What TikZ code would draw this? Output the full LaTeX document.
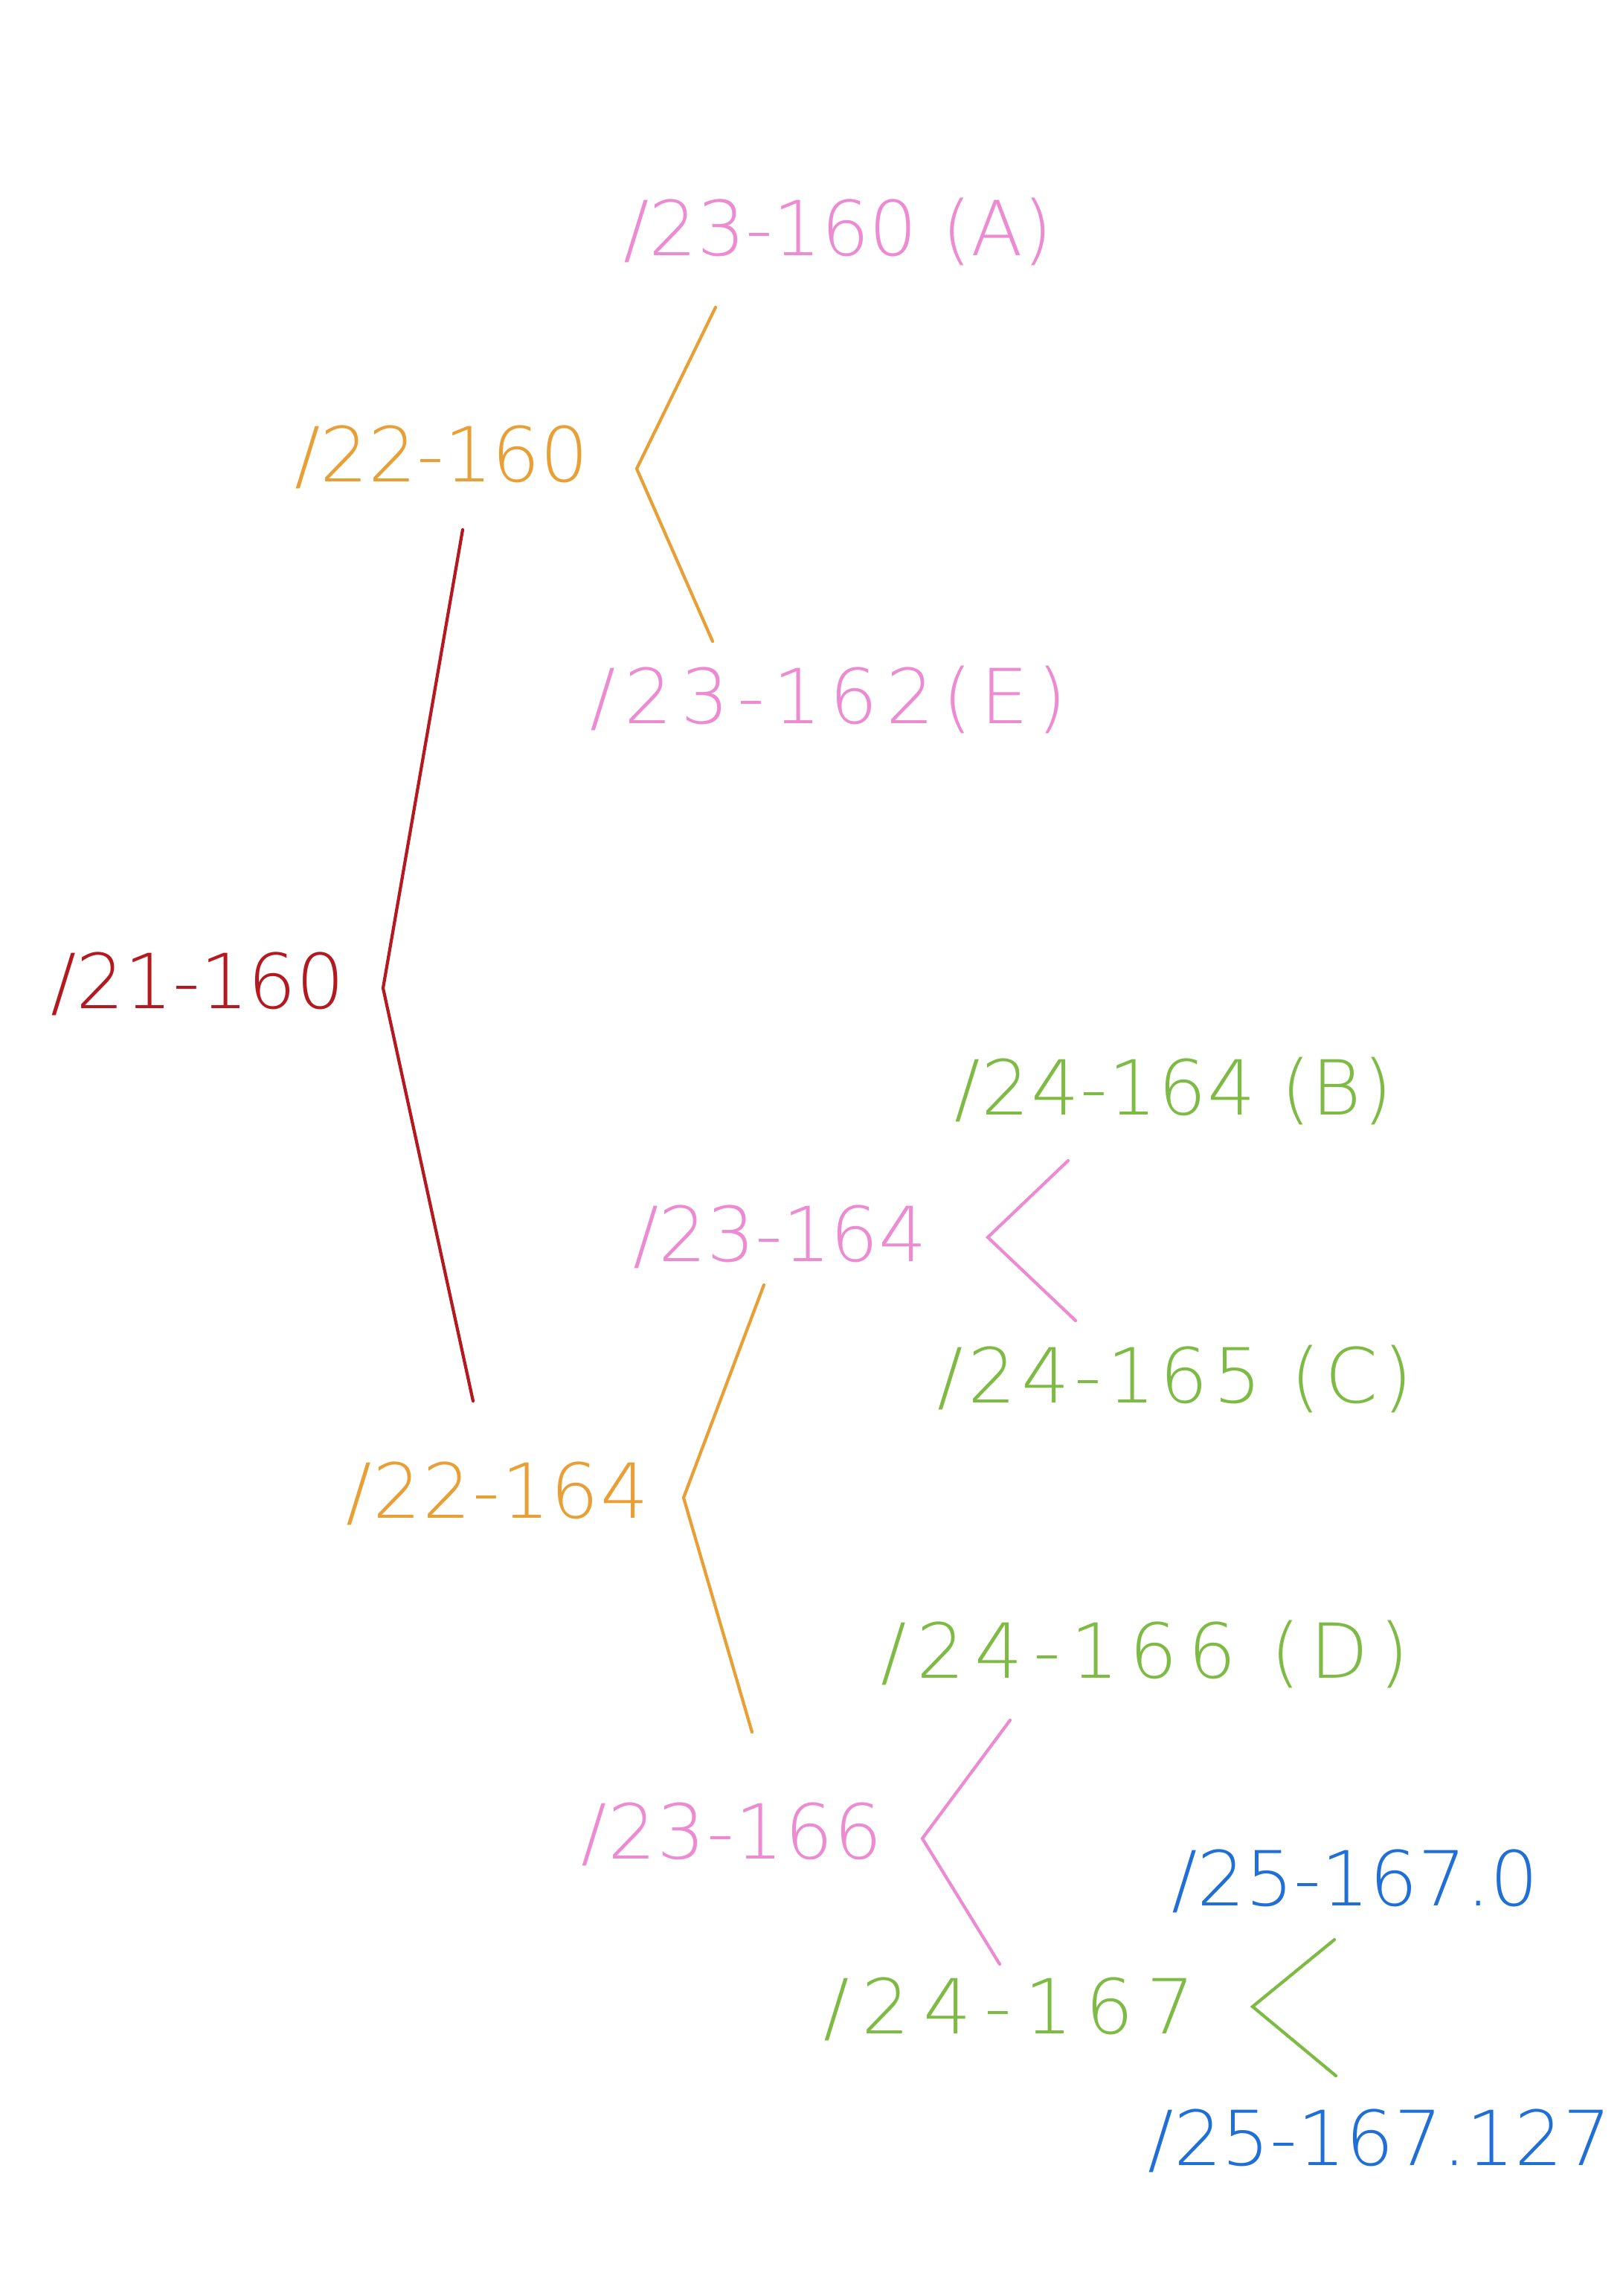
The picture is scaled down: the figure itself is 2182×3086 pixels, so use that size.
\documentclass[tikz,border=0pt]{standalone}
\usepackage{fontspec}
\IfFontExistsTF{DejaVu Sans ExtraLight}{\setmainfont{DejaVu Sans ExtraLight}}{\setmainfont{DejaVu Sans}}
\definecolor{cred}{HTML}{B3191E}
\definecolor{corange}{HTML}{E8A036}
\definecolor{cpink}{HTML}{EC8AD2}
\definecolor{cgreen}{HTML}{7DBB45}
\definecolor{cblue}{HTML}{1F6FD6}
\newcommand{\spaced}[2]{{\addfontfeature{LetterSpace=#1}#2}}
\tikzset{
  lbl/.style={inner sep=0pt, anchor=center, font=\fontsize{29}{34}\selectfont},
  link/.style={line width=1.2pt, line cap=round, line join=miter}
}
\begin{document}
\begin{tikzpicture}[x=0.01cm,y=-0.01cm]
\useasboundingbox (0,0) rectangle (2182,3086);
% labels
\node[lbl, text=cred]    (n21)  at (266,1322) {/21-160};
\node[lbl, text=corange] (n22a) at (594,614)  {/22-160};
\node[lbl, text=cpink]   (n23a) at (1127,311) {/23-160 (A)};
\node[lbl, text=cpink]   (n23e) at (1114,940) {\spaced{11}{/23-162(E)}};
\node[lbl, text=corange] (n22b) at (669,2007) {\spaced{2}{/22-164}};
\node[lbl, text=cpink]   (n23b) at (1049,1662) {/23-164};
\node[lbl, text=cgreen]  (n24b) at (1578,1466) {\spaced{1.5}{/24-164 (B)}};
\node[lbl, text=cgreen]  (n24c) at (1580,1853) {\spaced{6.5}{/24-165 (C)}};
\node[lbl, text=cpink]   (n23c) at (984,2465) {\spaced{1.5}{/23-166}};
\node[lbl, text=cgreen]  (n24d) at (1539,2223) {\spaced{13.5}{/24-166 (D)}};
\node[lbl, text=cgreen]  (n24e) at (1357,2700) {\spaced{17}{/24-167}};
\node[lbl, text=cblue]   (n25a) at (1822,2528) {/25-167.0};
\node[lbl, text=cblue]   (n25b) at (1855,2877) {/25-167.127};
% branch points
\coordinate (r1) at (622,712);  \coordinate (rv) at (515,1328); \coordinate (r2) at (636,1883);
\coordinate (o1) at (962,413);  \coordinate (ov) at (856,630);  \coordinate (o2) at (958,862);
\coordinate (p1) at (1027,1727); \coordinate (pv) at (919,2013); \coordinate (p2) at (1011,2328);
\coordinate (q1) at (1436,1560); \coordinate (qv) at (1328,1663); \coordinate (q2) at (1446,1775);
\coordinate (s1) at (1358,2312); \coordinate (sv) at (1240,2471); \coordinate (s2) at (1344,2640);
\coordinate (g1) at (1794,2607); \coordinate (gv) at (1684,2697); \coordinate (g2) at (1796,2790);
% connectors
\draw[link, cred]    (r1) -- (rv) -- (r2);
\draw[link, corange] (o1) -- (ov) -- (o2);
\draw[link, corange] (p1) -- (pv) -- (p2);
\draw[link, cpink]   (q1) -- (qv) -- (q2);
\draw[link, cpink]   (s1) -- (sv) -- (s2);
\draw[link, cgreen]  (g1) -- (gv) -- (g2);
\end{tikzpicture}
\end{document}
